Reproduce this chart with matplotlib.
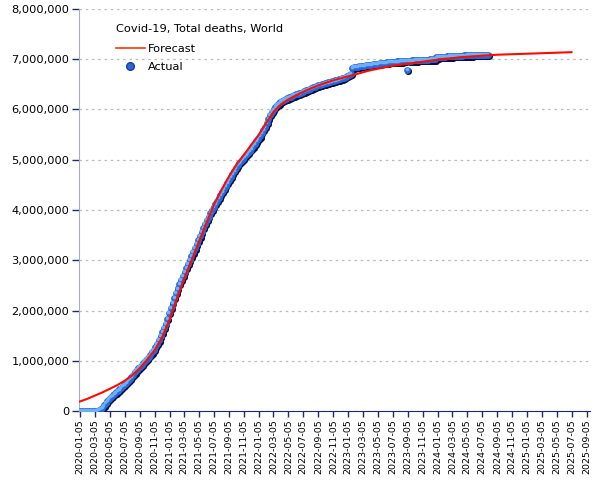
import matplotlib
matplotlib.use('Agg')
import matplotlib.pyplot as plt
import matplotlib.dates as mdates
import matplotlib.transforms as mtrans
from matplotlib.ticker import FuncFormatter, MultipleLocator
from matplotlib.lines import Line2D
import pandas as pd

# weekly cumulative deaths (millions), Sundays starting 2020-01-05
actual_2020 = [
    0.0, 0.0, 0.0, 0.0001, 0.0004, 0.0009, 0.0017, 0.0025, 0.003, 0.0036,
    0.0065, 0.015, 0.035, 0.068, 0.11, 0.16, 0.20, 0.24, 0.28, 0.31,
    0.34, 0.37, 0.40, 0.43, 0.46, 0.50, 0.53, 0.565, 0.60, 0.64,
    0.68, 0.725, 0.77, 0.81, 0.85, 0.885, 0.92, 0.96, 1.00, 1.04,
    1.08, 1.12, 1.17, 1.22, 1.28, 1.34, 1.41, 1.49, 1.57, 1.65,
    1.74, 1.83,
]
actual_2021 = [
    1.95, 2.05, 2.15, 2.25, 2.35, 2.44, 2.53, 2.61, 2.69, 2.77,
    2.85, 2.93, 3.00, 3.08, 3.16, 3.24, 3.32, 3.40, 3.48, 3.56,
    3.64, 3.72, 3.80, 3.87, 3.94, 4.00, 4.06, 4.12, 4.18, 4.24,
    4.30, 4.36, 4.42, 4.48, 4.54, 4.60, 4.66, 4.72, 4.78, 4.84,
    4.89, 4.94, 4.98, 5.02, 5.06, 5.10, 5.14, 5.18, 5.22, 5.27,
    5.32, 5.37,
]
actual_2022 = [
    5.42, 5.47, 5.53, 5.59, 5.66, 5.74, 5.82, 5.89, 5.95, 6.00,
    6.05, 6.09, 6.12, 6.15, 6.17, 6.19, 6.21, 6.225, 6.24, 6.255,
    6.27, 6.285, 6.30, 6.31, 6.32, 6.335, 6.35, 6.365, 6.38, 6.395,
    6.41, 6.425, 6.44, 6.455, 6.47, 6.48, 6.49, 6.50, 6.51, 6.52,
    6.53, 6.54, 6.55, 6.56, 6.57, 6.58, 6.59, 6.60, 6.61, 6.62,
    6.63, 6.65,
]
actual_2023 = [
    6.67, 6.69, 6.71, 6.83, 6.84, 6.85, 6.855, 6.86, 6.865, 6.87,
    6.875, 6.88, 6.885, 6.89, 6.895, 6.90, 6.905, 6.91, 6.915, 6.92,
    6.925, 6.93, 6.933, 6.936, 6.94, 6.943, 6.946, 6.95, 6.952, 6.955,
    6.958, 6.96, 6.962, 6.965, 6.968, 6.79, 6.972, 6.974, 6.976, 6.978,
    6.98, 6.982, 6.984, 6.986, 6.988, 6.99, 6.992, 6.994, 6.996, 6.998,
    7.00, 7.002,
]
actual_2024 = [
    7.035, 7.04, 7.043, 7.046, 7.049, 7.052, 7.055, 7.057, 7.059, 7.061,
    7.063, 7.065, 7.067, 7.069, 7.071, 7.073, 7.075, 7.077, 7.078, 7.079,
    7.08, 7.081, 7.082, 7.083, 7.084, 7.085, 7.086, 7.087, 7.088, 7.089,
    7.09,
]
actual = actual_2020 + actual_2021 + actual_2022 + actual_2023 + actual_2024

# fitted forecast (millions), 5th of each month from 2020-01
forecast = [
    0.19, 0.245, 0.305, 0.37, 0.44, 0.515, 0.60, 0.71, 0.85, 1.02, 1.21, 1.46,
    1.82, 2.24, 2.62, 3.00, 3.37, 3.75, 4.10, 4.40, 4.67, 4.90, 5.10, 5.30,
    5.50, 5.74, 5.95, 6.10, 6.20, 6.28, 6.35, 6.42, 6.48, 6.53, 6.58, 6.62,
    6.66, 6.70, 6.74, 6.78, 6.81, 6.84, 6.87, 6.89, 6.91, 6.93, 6.95, 6.97,
    6.99, 7.01, 7.02, 7.04, 7.05, 7.06, 7.07, 7.08, 7.09, 7.095, 7.10, 7.105,
    7.11, 7.115, 7.12, 7.125, 7.13, 7.135, 7.14,
]

act_dates = pd.date_range('2020-01-05', periods=len(actual), freq='7D')
fc_dates = pd.date_range('2020-01-05', periods=len(forecast),
                         freq=pd.DateOffset(months=1))
tick_dates = pd.date_range('2020-01-05', '2025-09-05',
                           freq=pd.DateOffset(months=2))

act = [v * 1e6 for v in actual]
fc = [v * 1e6 for v in forecast]

fig = plt.figure(figsize=(6.05, 4.8), dpi=100)
ax = fig.add_axes([0.1306, 0.1437, 0.8444, 0.8376])

navy = '#1c2a6e'

# shaded ball markers: shadow, body, highlight
shadow = mtrans.offset_copy(ax.transData, fig=fig, x=0.6, y=-1.0, units='points')
hilite = mtrans.offset_copy(ax.transData, fig=fig, x=-0.5, y=0.6, units='points')
ax.scatter(act_dates, act, s=26, color='#0a0f40', lw=0, transform=shadow, zorder=4)
ax.scatter(act_dates, act, s=24, color='#2a68d8', lw=0, zorder=5)
ax.scatter(act_dates, act, s=7, color='#6fb0f5', lw=0, transform=hilite, zorder=6)
ax.plot(fc_dates, fc, color='#ff0a00', lw=1.5, zorder=7)

ax.set_ylim(0, 8e6)
ax.set_xlim(pd.Timestamp('2020-01-01'), pd.Timestamp('2025-09-18'))
ax.yaxis.set_major_locator(MultipleLocator(1e6))
ax.yaxis.set_major_formatter(FuncFormatter(lambda v, p: f'{int(v):,}'))
ax.set_xticks(tick_dates)
ax.xaxis.set_major_formatter(mdates.DateFormatter('%Y-%m-%d'))
plt.setp(ax.get_xticklabels(), rotation=90, fontsize=6.8)
plt.setp(ax.get_yticklabels(), fontsize=8.2)
ax.tick_params(axis='y', length=5, width=1, color=navy, pad=2)
ax.tick_params(axis='x', length=4, width=1, color=navy, pad=2)

ax.grid(axis='y', color='#bbbbbb', ls=(0, (2, 3)), lw=0.9)
ax.set_axisbelow(True)
for s in ('top', 'right'):
    ax.spines[s].set_visible(False)
ax.spines['left'].set_color('#a8adc4')
ax.spines['bottom'].set_color(navy)

handles = [Line2D([], [], color='#ff3300', lw=1.2),
           Line2D([], [], ls='', marker='o', ms=5.5, color='#2a68d8', mec='#1a3a9a')]
leg = ax.legend(handles, ['Forecast', 'Actual'], title='Covid-19, Total deaths, World',
                loc='upper left', bbox_to_anchor=(0.055, 0.985), frameon=False,
                fontsize=8.2, title_fontsize=8.2, alignment='left',
                handlelength=2.5, handletextpad=0.3, labelspacing=0.7,
                borderpad=0.3)
leg._legend_box.sep = 7

fig.savefig('out.png', dpi=100, facecolor='white')
